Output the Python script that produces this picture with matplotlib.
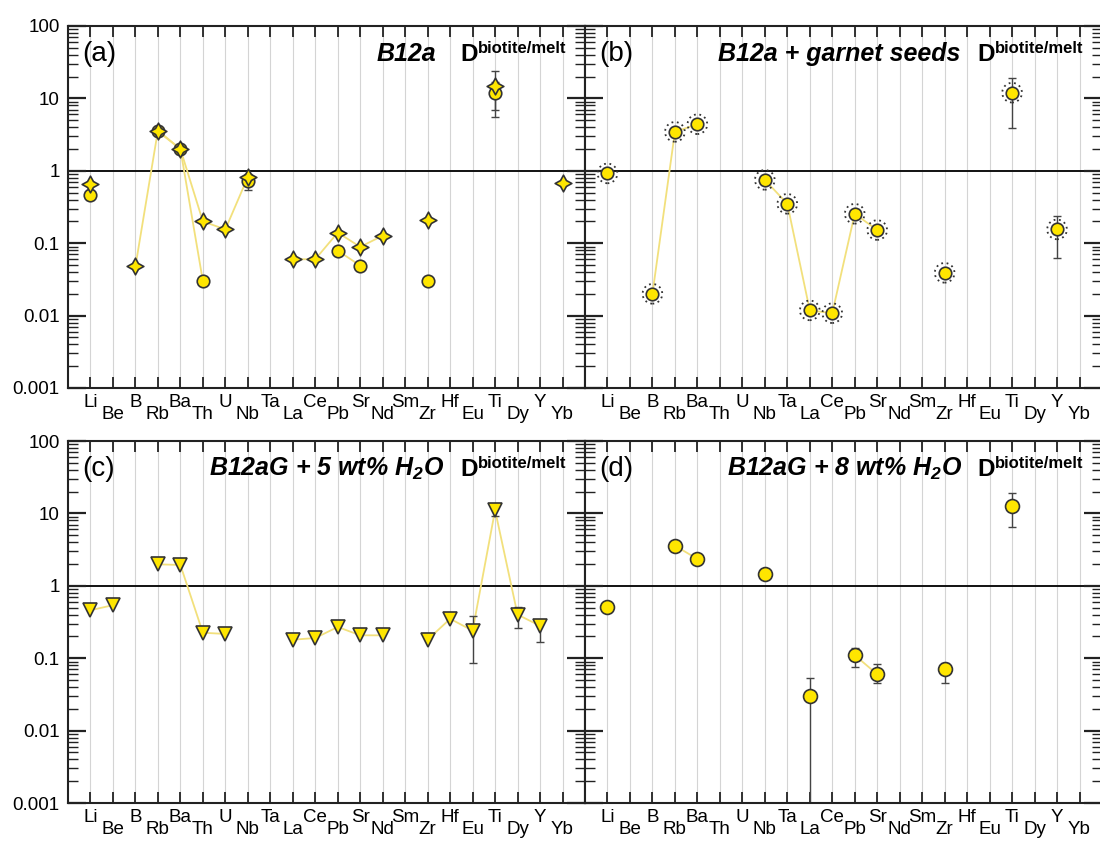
import numpy as np
import matplotlib
matplotlib.use('Agg')
import matplotlib.pyplot as plt
from matplotlib.path import Path
from matplotlib.ticker import NullFormatter

plt.rcParams['font.family'] = ['Liberation Sans', 'DejaVu Sans']
plt.rcParams['mathtext.fontset'] = 'custom'
plt.rcParams['mathtext.rm'] = 'Liberation Sans:bold:italic'
plt.rcParams['mathtext.it'] = 'Liberation Sans:bold:italic'

nan = np.nan
elementos = ['Li', 'Be', 'B', 'Rb', 'Ba', 'Th', 'U', 'Nb', 'Ta', 'La', 'Ce',
             'Pb', 'Sr', 'Nd', 'Sm', 'Zr', 'Hf', 'Eu', 'Ti', 'Dy', 'Y', 'Yb']

# (a) B12a - cruzes e circulos
a_cruz = [0.65, nan, 0.048, 3.6, 2.0, 0.20, 0.155, 0.82, nan, 0.060, 0.060,
          0.14, 0.089, 0.127, nan, 0.21, nan, nan, 15.0, nan, nan, 0.68]
a_circ = [0.47, nan, nan, 3.5, 2.0, 0.030, nan, 0.72, nan, nan, nan,
          0.079, 0.049, nan, nan, 0.030, nan, nan, 11.7, nan, nan, nan]
a_cruz_erro = {'Ti': (6.9, 24.0)}
a_circ_erro = {'Nb': (0.55, 0.90), 'Ti': (5.5, 17.0)}

# (b) B12a + garnet seeds
b_circ = [0.92, nan, 0.020, 3.45, 4.4, nan, nan, 0.75, 0.35, 0.0118, 0.0108,
          0.255, 0.152, nan, nan, 0.039, nan, nan, 12.0, nan, 0.155, nan]
b_erro = {'Ti': (3.9, 19.3), 'Y': (0.062, 0.24)}

# (c) B12aG + 5 wt% H2O
c_tri = [0.46, 0.54, nan, 1.98, 1.94, 0.225, 0.216, nan, nan, 0.18, 0.19,
         0.27, 0.207, 0.207, nan, 0.18, 0.35, 0.24, 11.1, 0.40, 0.28, nan]
c_erro = {'Eu': (0.087, 0.38), 'Ti': (9.2, 13.0), 'Dy': (0.26, 0.51), 'Y': (0.166, 0.33)}

# (d) B12aG + 8 wt% H2O
d_circ = [0.515, nan, nan, 3.58, 2.35, nan, nan, 1.44, nan, 0.030, nan,
          0.11, 0.060, nan, nan, 0.070, nan, nan, 12.8, nan, nan, nan]
d_erro = {'La': (1e-5, 0.053), 'Pb': (0.075, 0.137), 'Sr': (0.046, 0.083),
          'Zr': (0.046, 0.087), 'Ti': (6.5, 18.9)}

amarelo = '#FFE600'
borda = '#333333'
linha = '#F2E07C'
estrela = Path.unit_regular_star(4, 0.5)

W, H = 1100, 842
largura, altura = 517, 362
fig = plt.figure(figsize=(11, 8.42), dpi=100)


def eixo(esq, topo, rotulos_y):
    ax = fig.add_axes([esq / W, 1 - (topo + altura) / H, largura / W, altura / H])
    ax.set_yscale('log')
    ax.set_ylim(1e-3, 100)
    ax.set_xlim(-1, 22)
    ax.set_xticks(range(0, 22, 2))
    ax.set_xticklabels(elementos[0::2])
    ax.set_xticks(range(1, 22, 2), minor=True)
    ax.set_xticklabels(elementos[1::2], minor=True)
    ax.tick_params(axis='x', which='both', direction='in', top=True, bottom=True,
                   length=8, width=1.3, labelsize=13.5, color='#222')
    ax.tick_params(axis='x', which='major', pad=4)
    ax.tick_params(axis='x', which='minor', pad=13)
    ax.set_yticks([1e-3, 1e-2, 1e-1, 1, 10, 100])
    ax.set_yticklabels(['0.001', '0.01', '0.1', '1', '10', '100'])
    ax.yaxis.set_minor_formatter(NullFormatter())
    ax.tick_params(axis='y', which='major', direction='in', left=True, right=True,
                   length=13, width=1.6, labelsize=13.5, pad=6, labelleft=rotulos_y,
                   color='#222')
    ax.tick_params(axis='y', which='minor', direction='in', left=True, right=True,
                   length=7, width=1.0, color='#222')
    for i in range(len(elementos)):
        ax.axvline(i, color='#d4d4d4', lw=0.8, zorder=0)
    ax.axhline(1, color='#111', lw=1.4, zorder=1)
    for s in ax.spines.values():
        s.set_linewidth(1.5)
        s.set_color('#222')
    return ax


def titulo(ax, letra, nome, folga):
    ax.text(0.027, 0.923, letra, transform=ax.transAxes, fontsize=20,
            ha='left', va='center')
    sup = ax.text(0.965, 0.925, 'biotite/melt', transform=ax.transAxes,
                  fontsize=12, fontweight='bold', ha='right', va='baseline')
    d = ax.annotate('D', xy=(0, 0), xycoords=sup, xytext=(-1, -5),
                    textcoords='offset pixels', fontsize=17.5, fontweight='bold',
                    ha='right', va='baseline')
    ax.annotate(nome, xy=(0, 0), xycoords=d, xytext=(-folga, 5),
                textcoords='offset pixels', fontsize=18, fontweight='bold',
                fontstyle='italic', ha='right', va='baseline')


def serie(ax, valores, marcador, tam, erros=None):
    x = np.arange(len(elementos))
    y = np.array(valores, dtype=float)
    ax.plot(x, y, color=linha, lw=1.3, zorder=1.5)
    if erros:
        xs = [elementos.index(k) for k in erros]
        ys = [y[i] for i in xs]
        lo = [ys[j] - erros[k][0] for j, k in enumerate(erros)]
        hi = [erros[k][1] - ys[j] for j, k in enumerate(erros)]
        ax.errorbar(xs, ys, yerr=[lo, hi], fmt='none', ecolor='#444',
                    elinewidth=1.0, capsize=3, capthick=1.0, zorder=2)
    ax.plot(x, y, ls='none', marker=marcador, ms=tam, mfc=amarelo, mec=borda,
            mew=1.2, zorder=3)
    return x, y


ax_a = eixo(68, 26, True)
ax_b = eixo(585, 26, False)
ax_c = eixo(68, 441, True)
ax_d = eixo(585, 441, False)

serie(ax_a, a_circ, 'o', 9, a_circ_erro)
serie(ax_a, a_cruz, estrela, 12, a_cruz_erro)
titulo(ax_a, '(a)', 'B12a', 24)

xb, yb = serie(ax_b, b_circ, 'o', 9, b_erro)
ax_b.scatter(xb, yb, s=200, facecolors='none', edgecolors=borda,
             linewidths=1.3, linestyles=(0, (1, 2)), zorder=2.5)
titulo(ax_b, '(b)', 'B12a + garnet seeds', 17)

serie(ax_c, c_tri, 'v', 9.5, c_erro)
titulo(ax_c, '(c)', 'B12aG + 5 wt% H$_2$O', 16)

serie(ax_d, d_circ, 'o', 10, d_erro)
titulo(ax_d, '(d)', 'B12aG + 8 wt% H$_2$O', 15)

plt.savefig('out.png', dpi=100)
